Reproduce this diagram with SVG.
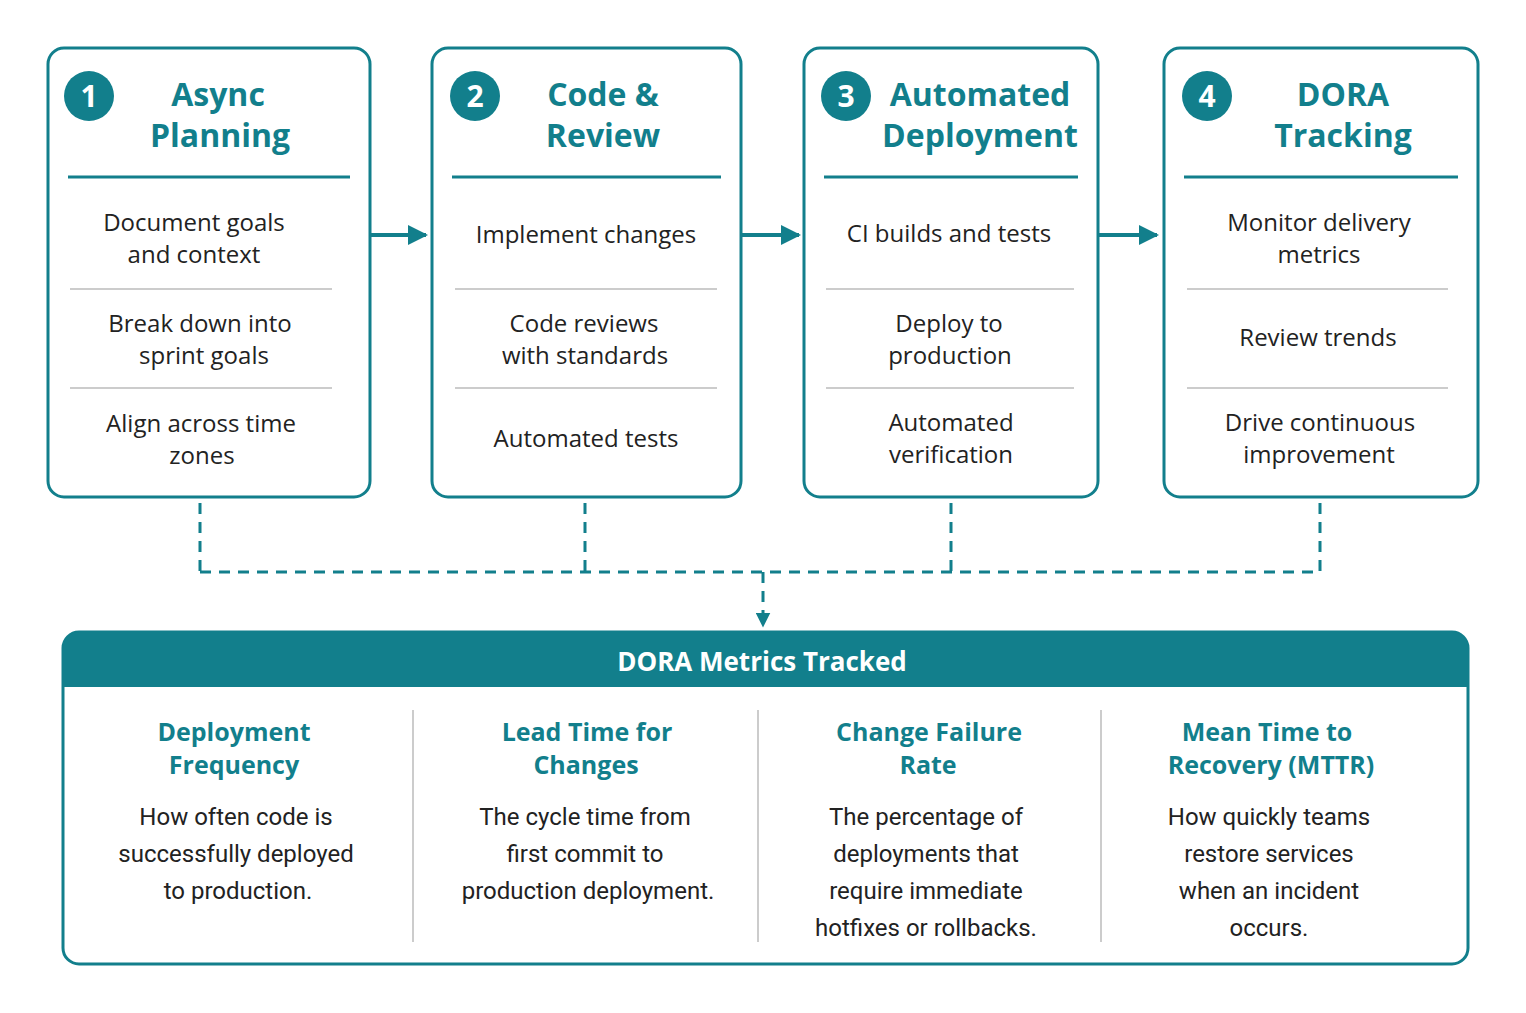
<svg xmlns="http://www.w3.org/2000/svg" width="1526" height="1013" viewBox="0 0 1526 1013">
<style>
.box{fill:#fff;stroke:#127f8c;stroke-width:3}
.num{fill:#127f8c}
.numt{fill:#fff;font:bold 30px "Open Sans",sans-serif;text-anchor:middle}
.title{fill:#127f8c;font:bold 32px "Open Sans",sans-serif;text-anchor:middle}
.hl{stroke:#127f8c;stroke-width:3}
.sep{stroke:#bbb;stroke-width:1.5}
.item{fill:#222;font:24px "Open Sans",sans-serif;text-anchor:middle}
.arrow{stroke:#127f8c;stroke-width:4;fill:none}
.dash{stroke:#127f8c;stroke-width:3;fill:none;stroke-dasharray:11 8}
.ct{fill:#127f8c;font:bold 25px "Open Sans",sans-serif;text-anchor:middle}
.cb{fill:#222;font:24px "Liberation Sans Narrow","Roboto",sans-serif;text-anchor:middle}
</style>
<defs>
<marker id="ah" viewBox="0 0 10 10" refX="9" refY="5" markerWidth="5" markerHeight="5" orient="auto"><path d="M0,0L10,5L0,10z" fill="#127f8c"/></marker>
<marker id="ah2" viewBox="0 0 10 10" refX="9" refY="5" markerWidth="5" markerHeight="5" orient="auto"><path d="M0,0L10,5L0,10z" fill="#127f8c"/></marker>
</defs>
<rect width="1526" height="1013" fill="#fff"/>
<g id="stage1">
<rect class="box" x="48" y="48" width="322" height="449" rx="16"/>
<circle class="num" cx="89" cy="96" r="25"/><text class="numt" x="89" y="107">1</text>
<text class="title" x="218" y="106">Async</text><text class="title" x="220" y="147">Planning</text>
<line class="hl" x1="68" y1="177" x2="350" y2="177"/>
<text class="item" x="194" y="231">Document goals</text><text class="item" x="194" y="263">and context</text>
<line class="sep" x1="70" y1="289" x2="332" y2="289"/>
<text class="item" x="200" y="332">Break down into</text><text class="item" x="204" y="364">sprint goals</text>
<line class="sep" x1="70" y1="388" x2="332" y2="388"/>
<text class="item" x="201" y="432">Align across time</text><text class="item" x="202" y="464">zones</text>
</g>
<g id="stage2">
<rect class="box" x="432" y="48" width="309" height="449" rx="16"/>
<circle class="num" cx="475" cy="96" r="25"/><text class="numt" x="475" y="107">2</text>
<text class="title" x="603" y="106">Code &amp;</text><text class="title" x="603" y="147">Review</text>
<line class="hl" x1="452" y1="177" x2="721" y2="177"/>
<text class="item" x="586" y="243">Implement changes</text>
<line class="sep" x1="455" y1="289" x2="717" y2="289"/>
<text class="item" x="584" y="332">Code reviews</text><text class="item" x="585" y="364">with standards</text>
<line class="sep" x1="455" y1="388" x2="717" y2="388"/>
<text class="item" x="586" y="447">Automated tests</text>
</g>
<g id="stage3">
<rect class="box" x="804" y="48" width="294" height="449" rx="16"/>
<circle class="num" cx="846" cy="96" r="25"/><text class="numt" x="846" y="107">3</text>
<text class="title" x="980" y="106">Automated</text><text class="title" x="980" y="147">Deployment</text>
<line class="hl" x1="824" y1="177" x2="1078" y2="177"/>
<text class="item" x="949" y="242">CI builds and tests</text>
<line class="sep" x1="826" y1="289" x2="1074" y2="289"/>
<text class="item" x="949" y="332">Deploy to</text><text class="item" x="950" y="364">production</text>
<line class="sep" x1="826" y1="388" x2="1074" y2="388"/>
<text class="item" x="951" y="431">Automated</text><text class="item" x="951" y="463">verification</text>
</g>
<g id="stage4">
<rect class="box" x="1164" y="48" width="314" height="449" rx="16"/>
<circle class="num" cx="1207" cy="96" r="25"/><text class="numt" x="1207" y="107">4</text>
<text class="title" x="1343" y="106">DORA</text><text class="title" x="1343" y="147">Tracking</text>
<line class="hl" x1="1184" y1="177" x2="1458" y2="177"/>
<text class="item" x="1319" y="231">Monitor delivery</text><text class="item" x="1319" y="263">metrics</text>
<line class="sep" x1="1187" y1="289" x2="1448" y2="289"/>
<text class="item" x="1318" y="346">Review trends</text>
<line class="sep" x1="1187" y1="388" x2="1448" y2="388"/>
<text class="item" x="1320" y="431">Drive continuous</text><text class="item" x="1319" y="463">improvement</text>
</g>
<g id="connectors">
<line class="arrow" x1="370" y1="235" x2="426" y2="235" marker-end="url(#ah)"/>
<line class="arrow" x1="741" y1="235" x2="799" y2="235" marker-end="url(#ah)"/>
<line class="arrow" x1="1098" y1="235" x2="1157" y2="235" marker-end="url(#ah)"/>
<path class="dash" d="M200,503V572M585,503V572M951,503V572M1320,503V572M200,572H1320"/>
<line class="dash" x1="763" y1="572" x2="763" y2="626" marker-end="url(#ah2)"/>
</g>
<g id="metrics">
<rect class="box" x="63" y="632" width="1405" height="332" rx="16"/>
<path d="M63,687V648a16,16 0 0 1 16,-16H1452a16,16 0 0 1 16,16V687z" fill="#127f8c"/>
<text x="762" y="671" fill="#fff" font-family="Open Sans,sans-serif" font-weight="bold" font-size="26" text-anchor="middle">DORA Metrics Tracked</text>
<line class="sep" x1="413" y1="710" x2="413" y2="942"/>
<line class="sep" x1="758" y1="710" x2="758" y2="942"/>
<line class="sep" x1="1101" y1="710" x2="1101" y2="942"/>
<text class="ct" x="234" y="741">Deployment</text><text class="ct" x="234" y="774">Frequency</text>
<text class="cb" x="236" y="825">How often code is</text><text class="cb" x="236" y="862">successfully deployed</text><text class="cb" x="238" y="899">to production.</text>
<text class="ct" x="587" y="741">Lead Time for</text><text class="ct" x="586" y="774">Changes</text>
<text class="cb" x="585" y="825">The cycle time from</text><text class="cb" x="585" y="862">first commit to</text><text class="cb" x="588" y="899">production deployment.</text>
<text class="ct" x="929" y="741">Change Failure</text><text class="ct" x="928" y="774">Rate</text>
<text class="cb" x="926" y="825">The percentage of</text><text class="cb" x="926" y="862">deployments that</text><text class="cb" x="926" y="899">require immediate</text><text class="cb" x="926" y="936">hotfixes or rollbacks.</text>
<text class="ct" x="1267" y="741">Mean Time to</text><text class="ct" x="1271" y="774">Recovery (MTTR)</text>
<text class="cb" x="1269" y="825">How quickly teams</text><text class="cb" x="1269" y="862">restore services</text><text class="cb" x="1269" y="899">when an incident</text><text class="cb" x="1269" y="936">occurs.</text>
</g>
</svg>
